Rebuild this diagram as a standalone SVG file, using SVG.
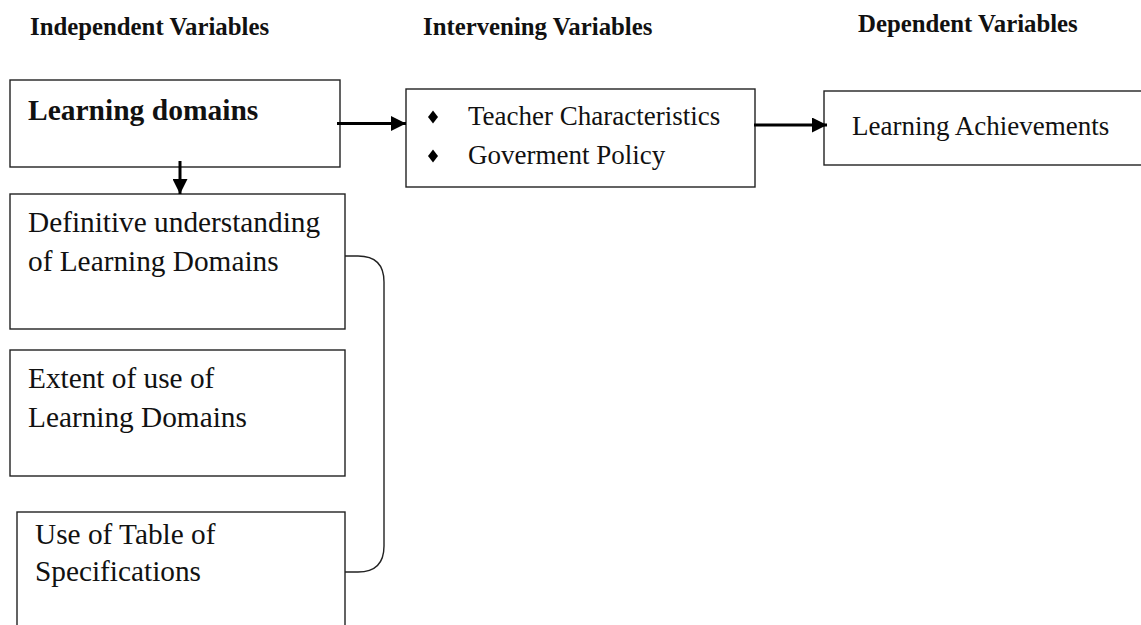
<svg xmlns="http://www.w3.org/2000/svg" width="1141" height="625" viewBox="0 0 1141 625">
<defs>
<style>
.box{fill:#fff;stroke:#222;stroke-width:1.4}
.hd{font-family:"Liberation Serif",serif;font-weight:bold;font-size:24.8px;fill:#111}
.t{font-family:"Liberation Serif",serif;font-size:27px;fill:#111}
.tl{font-family:"Liberation Serif",serif;font-size:29.3px;fill:#111}
.tb{font-family:"Liberation Serif",serif;font-weight:bold;font-size:29.5px;fill:#111}
.arr{stroke:#000;stroke-width:3;fill:none}
.br{stroke:#222;stroke-width:1.4;fill:none}
</style>
<marker id="ah" viewBox="0 0 10 10" refX="10" refY="5" markerWidth="6" markerHeight="5" markerUnits="strokeWidth" orient="auto">
<path d="M0,0 L10,5 L0,10 Z" fill="#000"/>
</marker>
</defs>
<rect width="1141" height="625" fill="#fff"/>
<g id="headers">
<text class="hd" x="30" y="35">Independent Variables</text>
<text class="hd" x="423" y="35">Intervening Variables</text>
<text class="hd" x="858" y="32">Dependent Variables</text>
</g>
<g id="learning-domains">
<rect class="box" x="10" y="80" width="330" height="87"/>
<text class="tb" x="28" y="120">Learning domains</text>
</g>
<g id="intervening">
<rect class="box" x="406" y="89" width="349" height="98"/>
<path d="M433,110.5 L438,117 L433,123.5 L428,117 Z" fill="#000"/>
<path d="M433,149.5 L438,156 L433,162.5 L428,156 Z" fill="#000"/>
<text class="t" x="468" y="125">Teacher Characteristics</text>
<text class="t" x="468" y="164">Goverment Policy</text>
</g>
<g id="achievements">
<rect class="box" x="824" y="91" width="330" height="74"/>
<text class="t" x="852" y="135">Learning Achievements</text>
</g>
<g id="definitive">
<rect class="box" x="10" y="194" width="335" height="135"/>
<text class="tl" x="28" y="232">Definitive understanding</text>
<text class="tl" x="28" y="271">of Learning Domains</text>
</g>
<g id="extent">
<rect class="box" x="10" y="350" width="335" height="126"/>
<text class="tl" x="28" y="388">Extent of use of</text>
<text class="tl" x="28" y="427">Learning Domains</text>
</g>
<g id="table-spec">
<rect class="box" x="17" y="512" width="328" height="130"/>
<text class="tl" x="35" y="544">Use of Table of</text>
<text class="tl" x="35" y="581">Specifications</text>
</g>
<g id="connectors">
<line class="arr" x1="337" y1="123.5" x2="406" y2="123.5" marker-end="url(#ah)"/>
<line class="arr" x1="754" y1="125" x2="827" y2="125" marker-end="url(#ah)"/>
<line class="arr" x1="180" y1="161" x2="180" y2="194" marker-end="url(#ah)"/>
<path class="br" d="M345,256 H358 Q384,256 384,282 V546 Q384,572 358,572 H345"/>
</g>
</svg>
